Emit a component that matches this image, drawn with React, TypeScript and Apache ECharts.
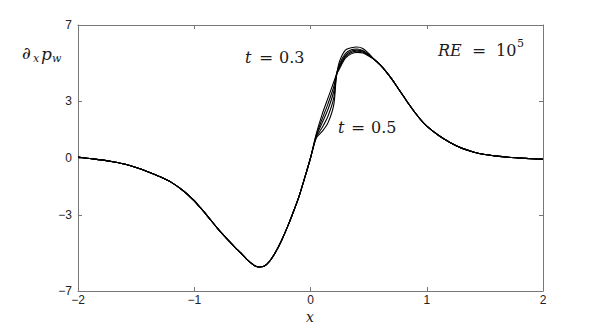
import React, { useEffect, useRef } from "react";
import * as echarts from "echarts";

// shared left part of the curves (x, y)
const leftX = [-2, -1.9, -1.8, -1.7, -1.6, -1.5, -1.4, -1.3, -1.2, -1.1, -1.0, -0.95, -0.9, -0.85, -0.8, -0.75, -0.7, -0.65, -0.6, -0.55, -0.5, -0.45, -0.4, -0.35, -0.3, -0.25, -0.2, -0.15, -0.1, -0.05, 0];
const leftY = [0.05, -0.03, -0.1, -0.2, -0.32, -0.5, -0.72, -0.97, -1.27, -1.7, -2.25, -2.6, -2.95, -3.33, -3.7, -4.05, -4.38, -4.7, -5.0, -5.32, -5.58, -5.74, -5.7, -5.42, -4.95, -4.35, -3.65, -2.88, -2.05, -1.05, 0.0];

// diverging middle part, one array per curve
const midX = [0.05, 0.1, 0.15, 0.2, 0.225, 0.25, 0.3, 0.35, 0.4, 0.45, 0.5];
const midA = [1.28, 2.3, 3.15, 4.0, 4.45, 5.1, 5.68, 5.8, 5.84, 5.76, 5.5];
const midB = [1.2, 2.05, 2.85, 3.75, 4.42, 4.95, 5.5, 5.7, 5.74, 5.66, 5.45];
const midC = [1.15, 1.85, 2.55, 3.5, 4.42, 4.85, 5.4, 5.62, 5.68, 5.62, 5.42];
const midD = [1.1, 1.6, 2.2, 3.15, 4.4, 4.78, 5.32, 5.55, 5.62, 5.58, 5.4];
const midE = [1.05, 1.4, 1.85, 2.8, 4.38, 4.7, 5.25, 5.48, 5.56, 5.53, 5.37];

// shared right part
const rightX = [0.55, 0.6, 0.65, 0.7, 0.75, 0.8, 0.85, 0.9, 0.95, 1.0, 1.1, 1.2, 1.3, 1.4, 1.5, 1.6, 1.7, 1.8, 1.9, 2.0];
const rightY = [5.18, 4.9, 4.55, 4.15, 3.7, 3.25, 2.8, 2.38, 2.0, 1.68, 1.2, 0.82, 0.52, 0.32, 0.18, 0.1, 0.04, 0.0, -0.04, -0.07];

const xTicks = [-2, -1, 0, 1, 2];
const yTicks = [-7, -3, 0, 3, 7];

const mids = [midA, midB, midC, midD, midE];

const minus = (v: number) => String(v).replace("-", "\u2212");

export default function App() {
  const ref = useRef<HTMLDivElement>(null);
  useEffect(() => {
    document.body.style.margin = "0";
    const chart = echarts.init(ref.current!, null, { renderer: "svg" });
    const build = (mid: number[]) => {
      const pts: number[][] = [];
      leftX.forEach((x, i) => pts.push([x, leftY[i]]));
      midX.forEach((x, i) => pts.push([x, mid[i]]));
      rightX.forEach((x, i) => pts.push([x, rightY[i]]));
      return pts;
    };
    const axisColor = "#777";
    const labelFont = "Liberation Sans";
    const serif = "'DejaVu Serif', serif";
    const txt = (text: string, x: number, y: number, size: number, italic: boolean) => ({
      type: "text",
      x,
      y,
      style: {
        text,
        fontFamily: serif,
        fontSize: size,
        fontStyle: italic ? "italic" : "normal",
        fill: "#1a1a1a",
        verticalAlign: "middle",
      },
    });
    chart.setOption({
      animation: false,
      backgroundColor: "#fff",
      grid: { left: 78, right: 56, top: 25, bottom: 36 },
      xAxis: [
        {
          type: "value",
          min: -2,
          max: 2,
          interval: 1,
          position: "bottom",
          axisLine: { show: true, onZero: false, lineStyle: { color: axisColor, width: 1 } },
          axisTick: { show: true, inside: true, length: 4, lineStyle: { color: axisColor } },
          splitLine: { show: false },
          axisLabel: {
            color: "#222",
            fontFamily: labelFont,
            fontSize: 12,
            margin: 3,
            formatter: (v: number) => (xTicks.includes(v) ? minus(v) : ""),
          },
        },
        {
          type: "value",
          min: -2,
          max: 2,
          interval: 1,
          position: "top",
          axisLine: { show: true, onZero: false, lineStyle: { color: axisColor, width: 1 } },
          axisTick: { show: true, inside: true, length: 4, lineStyle: { color: axisColor } },
          splitLine: { show: false },
          axisLabel: { show: false },
        },
      ],
      yAxis: [
        {
          type: "value",
          min: -7,
          max: 7,
          position: "left",
          axisLine: { show: true, onZero: false, lineStyle: { color: axisColor, width: 1 } },
          axisTick: { show: true, inside: true, length: 4, customValues: yTicks, lineStyle: { color: axisColor } },
          splitLine: { show: false },
          axisLabel: {
            color: "#222",
            fontFamily: labelFont,
            fontSize: 12,
            margin: 6,
            customValues: yTicks,
            formatter: (v: number) => minus(v),
          },
        },
        {
          type: "value",
          min: -7,
          max: 7,
          position: "right",
          axisLine: { show: true, onZero: false, lineStyle: { color: axisColor, width: 1 } },
          axisTick: { show: true, inside: true, length: 4, customValues: yTicks, lineStyle: { color: axisColor } },
          splitLine: { show: false },
          axisLabel: { show: false },
        },
      ],
      series: mids.map((m) => ({
        type: "line",
        data: build(m),
        smooth: 0.3,
        showSymbol: false,
        symbol: "none",
        lineStyle: { color: "#000", width: 1.1 },
        xAxisIndex: 0,
        yAxisIndex: 0,
      })),
      graphic: [
        txt("x", 306, 317, 14, true),
        txt("\u2202", 22, 53, 17, true),
        txt("x", 33, 58, 11, true),
        txt("p", 41, 54, 17, true),
        txt("w", 52, 58, 11, true),
        txt("t", 245, 57, 16, true),
        txt("=", 259, 57, 17, false),
        txt("0.3", 279, 57, 16, false),
        txt("t", 338, 127, 16, true),
        txt("=", 351, 127, 17, false),
        txt("0.5", 371, 127, 16, false),
        txt("RE", 438, 50, 16, true),
        txt("=", 472, 50, 17, false),
        txt("10", 496, 50, 16, false),
        txt("5", 517, 43, 11, false),
      ],
    });
    return () => chart.dispose();
  }, []);
  return <div ref={ref} style={{ width: 599, height: 327 }} />;
}
